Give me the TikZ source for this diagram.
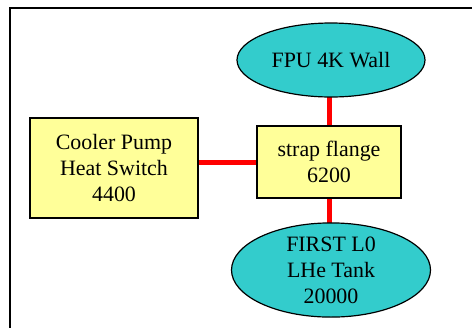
\documentclass[tikz,border=0pt]{standalone}
\usepackage{fontspec}
\setmainfont{Liberation Serif}
\usetikzlibrary{shapes.geometric,backgrounds}
\definecolor{turq}{RGB}{51,204,204}
\definecolor{paleyel}{RGB}{255,255,153}
\tikzset{
  txt/.style={font=\fontsize{22}{26}\selectfont, align=center, text=black},
  ell/.style={txt, ellipse, draw=black, line width=1.2pt, fill=turq, inner sep=0pt},
  boxn/.style={txt, rectangle, draw=black, line width=1.2pt, fill=paleyel, inner sep=0pt},
  link/.style={draw=red, line width=5bp}
}
\begin{document}
\begin{tikzpicture}[x=1bp,y=-1bp]
\useasboundingbox (0,0) rectangle (472,327);
\draw[line width=2bp] (10,340) -- (10,8) -- (490,8);
\node[ell, minimum width=188bp, minimum height=74bp] (fpu) at (331,60) {FPU 4K Wall};
\node[boxn, minimum width=144bp, minimum height=72bp] (strap) at (329,162) {strap flange\\6200};
\node[boxn, minimum width=168bp, minimum height=100bp] (cool) at (114,168) {Cooler Pump\\Heat Switch\\4400};
\node[ell, minimum width=199bp, minimum height=94bp] (first) at (331,270) {FIRST L0\\LHe Tank\\20000};
\begin{scope}[on background layer]
\draw[link] (strap.center) -- (strap.center -| cool.center);
\draw[link] (fpu.center -| strap.center) -- (strap.center);
\draw[link] (strap.center) -- (first.center -| strap.center);
\end{scope}
\end{tikzpicture}
\end{document}
